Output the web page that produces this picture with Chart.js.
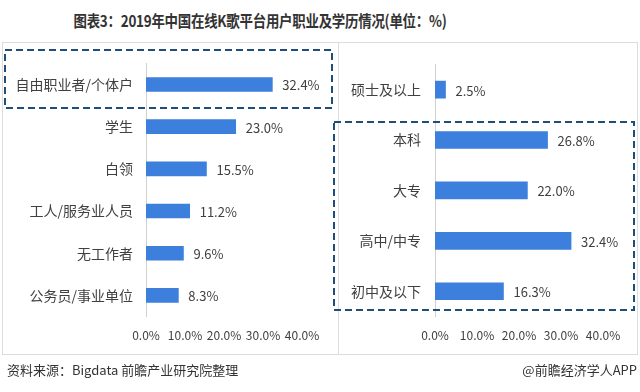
<!DOCTYPE html>
<html>
<head>
<meta charset="utf-8">
<script src="https://cdn.jsdelivr.net/npm/chart.js@4.4.1/dist/chart.umd.min.js"></script>
<style>
  html, body { margin: 0; padding: 0; background: #fff; }
  body { width: 640px; height: 392px; position: relative; overflow: hidden;
         font-family: "Noto Sans CJK SC", "Noto Sans", sans-serif; }
  .panel { position: absolute; border: 1px solid #dcdcdc; box-sizing: border-box; }
  canvas { position: absolute; }
  #title { position: absolute; top: 8px; left: 0; width: 520px; text-align: center;
           font-weight: bold; font-size: 16px; color: #333; letter-spacing: -0.3px;
           transform: scaleX(0.84); transform-origin: 260px 0; }
  #source { position: absolute; left: 7px; top: 360px; font-size: 13px; color: #333; }
  #brand { position: absolute; right: 3px; top: 360px; font-size: 13px; color: #333; }
  svg { position: absolute; left: 0; top: 0; }
</style>
</head>
<body>
<div id="title">图表3：2019年中国在线K歌平台用户职业及学历情况(单位：%)</div>
<div class="panel" style="left:2px;top:42px;width:337px;height:313px;"></div>
<div class="panel" style="left:338px;top:42px;width:300px;height:313px;"></div>
<canvas id="occChart" width="338" height="311" style="left:0;top:42px;"></canvas>
<canvas id="eduChart" width="299" height="311" style="left:338px;top:42px;"></canvas>
<svg width="640" height="392">
  <rect x="5" y="50" width="327" height="58" fill="none" stroke="#1F4E79" stroke-width="2" stroke-dasharray="7 4"/>
  <rect x="334" y="122" width="300" height="188" fill="none" stroke="#1F4E79" stroke-width="2" stroke-dasharray="7 4"/>
</svg>
<div id="source">资料来源：Bigdata 前瞻产业研究院整理</div>
<div id="brand">@前瞻经济学人APP</div>
<script>
// 职业
const occLabels = ['自由职业者/个体户', '学生', '白领', '工人/服务业人员', '无工作者', '公务员/事业单位'];
const occValues = [32.4, 23.0, 15.5, 11.2, 9.6, 8.3];
// 学历
const eduLabels = ['硕士及以上', '本科', '大专', '高中/中专', '初中及以下'];
const eduValues = [2.5, 26.8, 22.0, 32.4, 16.3];
// 横轴刻度
const xMin = 0, xMax = 40, xStep = 10;

const barColor = '#3C7FDC';
const textColor = '#404040';
const fontFamily = '"Noto Sans CJK SC", "Noto Sans", sans-serif';

// 在柱子末端写数值
const valueLabels = {
    id: 'valueLabels',
    afterDatasetsDraw(chart) {
        const ctx = chart.ctx;
        const meta = chart.getDatasetMeta(0);
        const data = chart.data.datasets[0].data;
        ctx.save();
        ctx.font = '13px ' + fontFamily;
        ctx.fillStyle = textColor;
        ctx.textBaseline = 'middle';
        ctx.textAlign = 'left';
        meta.data.forEach((bar, i) => {
            ctx.fillText(data[i].toFixed(1) + '%', bar.x + 10, bar.y + 1);
        });
        ctx.restore();
    }
};

function drawBars(canvasId, labels, values, opts) {
    const ctx = document.getElementById(canvasId).getContext('2d');
    return new Chart(ctx, {
        type: 'bar',
        data: {
            labels: labels,
            datasets: [{
                data: values,
                backgroundColor: barColor,
                barThickness: opts.barThickness
            }]
        },
        options: {
            indexAxis: 'y',
            responsive: false,
            animation: false,
            layout: { padding: { top: 17.5, right: opts.rightPad, bottom: 0, left: 0 } },
            plugins: { legend: { display: false }, tooltip: { enabled: false } },
            scales: {
                x: {
                    min: xMin, max: xMax,
                    grid: { display: false, drawTicks: false },
                    border: { display: false },
                    ticks: {
                        stepSize: xStep,
                        autoSkip: false,
                        maxRotation: 0,
                        padding: 12,
                        color: textColor,
                        font: { size: 12, family: fontFamily },
                        callback: v => v.toFixed(1) + '%'
                    },
                    afterFit: s => { s.height = 36.5; }
                },
                y: {
                    grid: { display: false, drawTicks: false },
                    border: { display: true, color: '#d0d0d0', width: 1 },
                    ticks: {
                        padding: opts.labelPad,
                        color: textColor,
                        font: { size: 14, family: fontFamily }
                    },
                    afterFit: s => { s.width = opts.axisWidth; }
                }
            }
        },
        plugins: [valueLabels]
    });
}

drawBars('occChart', occLabels, occValues, { barThickness: 14, rightPad: 36, axisWidth: 146, labelPad: 13 });
drawBars('eduChart', eduLabels, eduValues, { barThickness: 17, rightPad: 34, axisWidth: 97, labelPad: 14 });
</script>
</body>
</html>
